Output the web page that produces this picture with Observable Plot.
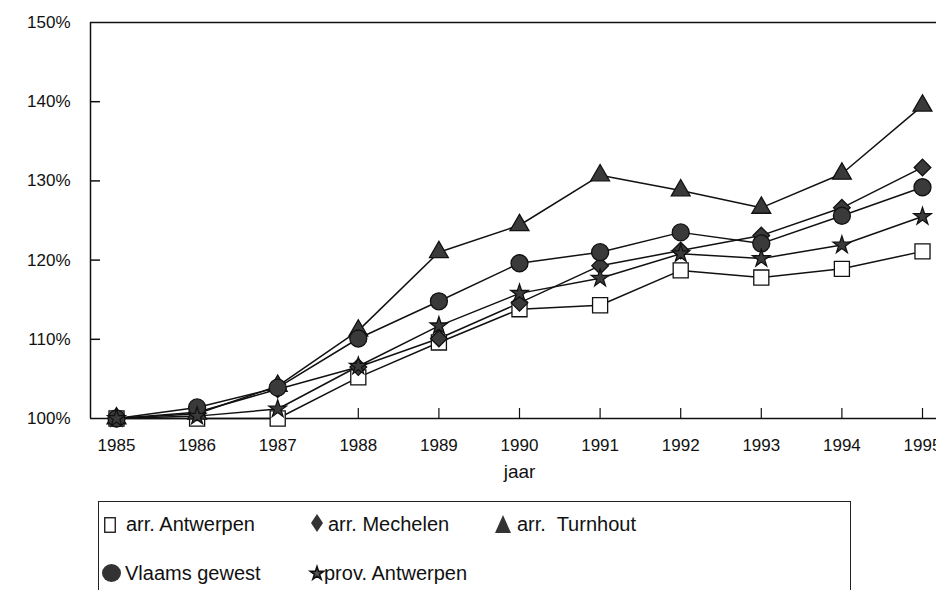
<!DOCTYPE html>
<html>
<head>
<meta charset="utf-8">
<script src="https://cdn.jsdelivr.net/npm/d3@7"></script>
<script src="https://cdn.jsdelivr.net/npm/@observablehq/plot@0.6"></script>
<style>
  body { margin: 0; background: #fff; font-family: "Liberation Sans", Arial, sans-serif; }
  #wrap { position: relative; width: 936px; height: 590px; overflow: hidden; background: #fff; }
  #legend { position: absolute; left: 98px; top: 501px; width: 753px; height: 120px; border: 1.2px solid #222; box-sizing: border-box; }
  .lbl { position: absolute; font-size: 20px; color: #111; white-space: pre; line-height: 20px; transform: translateY(-50%); }
  .sym { position: absolute; overflow: visible; }
</style>
</head>
<body>
<div id="wrap"><div id="chart"></div><div id="legend"></div></div>
<script>
const years = [1985, 1986, 1987, 1988, 1989, 1990, 1991, 1992, 1993, 1994, 1995];
const arrAntwerpen  = [100, 100.0, 100.0, 105.2, 109.6, 113.8, 114.3, 118.7, 117.8, 118.9, 121.1];
const arrMechelen   = [100, 100.8, 103.7, 106.5, 110.1, 114.6, 119.3, 121.2, 123.1, 126.6, 131.7];
const arrTurnhout   = [100, 100.6, 104.1, 111.1, 121.0, 124.4, 130.7, 128.8, 126.6, 130.9, 139.5];
const vlaamsGewest  = [100, 101.4, 103.9, 110.1, 114.8, 119.6, 121.0, 123.5, 122.1, 125.6, 129.2];
const provAntwerpen = [100, 100.3, 101.2, 106.6, 111.7, 115.8, 117.7, 120.8, 120.2, 121.9, 125.5];
const yTicks = [100, 110, 120, 130, 140, 150];

const seriesNames = ["arr. Antwerpen", "arr. Mechelen", "arr.  Turnhout", "Vlaams gewest", "prov. Antwerpen"];
const seriesValues = [arrAntwerpen, arrMechelen, arrTurnhout, vlaamsGewest, provAntwerpen];
const styles = [
  {symbol: "square", fill: "white", r: 8.5},
  {symbol: "diamond2", fill: "#3a3a3a", r: 7.5},
  {symbol: "triangle", fill: "#3a3a3a", r: 7},
  {symbol: "circle", fill: "#3a3a3a", r: 8.5},
  {symbol: "star", fill: "#3a3a3a", r: 5.5}
];

const data = seriesNames.map((name, i) => years.map((year, j) => ({series: name, year, value: seriesValues[i][j]})));

const x0 = 1984.6774;
const marks = [
  Plot.ruleX([x0], {stroke: "#111", strokeWidth: 1.5}),
  Plot.ruleY([150], {stroke: "#111", strokeWidth: 1.5}),
  Plot.ruleY([100], {stroke: "#111", strokeWidth: 1.5}),
  Plot.axisY({ticks: yTicks, tickSize: 0, tickPadding: 20, tickFormat: d => d + "%", fontSize: 17, fill: "#111", label: null}),
  Plot.axisX({ticks: years, tickSize: 0, tickPadding: 20, tickFormat: d => String(d), fontSize: 17, fill: "#111", label: null}),
  Plot.ruleY(yTicks.slice(1, -1), {x1: x0, x2: x0 + 10 / 80.6, stroke: "#111", strokeWidth: 1.5}),
  Plot.ruleX(years, {y1: 100, y2: 100 + 10 / 7.92, stroke: "#111", strokeWidth: 1.2}),
  Plot.text(["jaar"], {frameAnchor: "bottom", dy: 59, fontSize: 19, fill: "#111"})
];

data.forEach(d => marks.push(Plot.line(d, {x: "year", y: "value", stroke: "#111", strokeWidth: 1.5})));
data.forEach((d, i) => marks.push(Plot.dot(d, {x: "year", y: "value", symbol: () => styles[i].symbol, r: styles[i].r, fill: styles[i].fill, stroke: "#111", strokeWidth: 1.3})));

const chart = Plot.plot({
  width: 936,
  height: 500,
  marginTop: 22,
  marginBottom: 82,
  marginLeft: 90,
  marginRight: -12,
  x: {domain: [x0, 1995.3226]},
  y: {domain: [100, 150]},
  symbol: {type: "identity"},
  style: {fontFamily: "'Liberation Sans', Arial, sans-serif", background: "white", overflow: "hidden"},
  marks
});
document.getElementById("chart").appendChild(chart);

// legend (page coordinates)
const wrap = document.getElementById("wrap");
const legendItems = [
  {sx: 104, sy: 517, w: 12, h: 16, text: 126, ty: 524, kind: "rect"},
  {sx: 311, sy: 514, w: 12, h: 18, text: 328, ty: 524, kind: "diamond"},
  {sx: 495, sy: 515, w: 16, h: 18, text: 517, ty: 524, kind: "triangle"},
  {sx: 102, sy: 564, w: 19, h: 18, text: 125, ty: 573, kind: "circle"},
  {sx: 310, sy: 565, w: 14, h: 15, text: 324, ty: 573, kind: "star"}
];
legendItems.forEach((it, i) => {
  const s = d3.create("svg").attr("class", "sym").attr("width", it.w).attr("height", it.h)
    .style("left", it.sx + "px").style("top", it.sy + "px");
  const w = it.w, h = it.h;
  if (it.kind === "rect") s.append("rect").attr("x", 0.75).attr("y", 0.75).attr("width", w - 1.5).attr("height", h - 1.5).attr("fill", "white").attr("stroke", "#111").attr("stroke-width", 1.3);
  if (it.kind === "diamond") s.append("path").attr("d", `M${w/2},0L${w},${h/2}L${w/2},${h}L0,${h/2}Z`).attr("fill", "#333");
  if (it.kind === "triangle") s.append("path").attr("d", `M${w/2},0L${w},${h}L0,${h}Z`).attr("fill", "#333");
  if (it.kind === "circle") s.append("ellipse").attr("cx", w/2).attr("cy", h/2).attr("rx", w/2).attr("ry", h/2).attr("fill", "#333");
  if (it.kind === "star") s.append("path").attr("transform", `translate(${w/2},${h/2 + 1})`).attr("d", d3.symbol(d3.symbolStar, 55)()).attr("fill", "#555").attr("stroke", "#111").attr("stroke-width", 1.6);
  wrap.appendChild(s.node());
  const t = document.createElement("div");
  t.className = "lbl";
  t.style.left = it.text + "px";
  t.style.top = it.ty + "px";
  t.textContent = seriesNames[i];
  wrap.appendChild(t);
});
</script>
</body>
</html>
